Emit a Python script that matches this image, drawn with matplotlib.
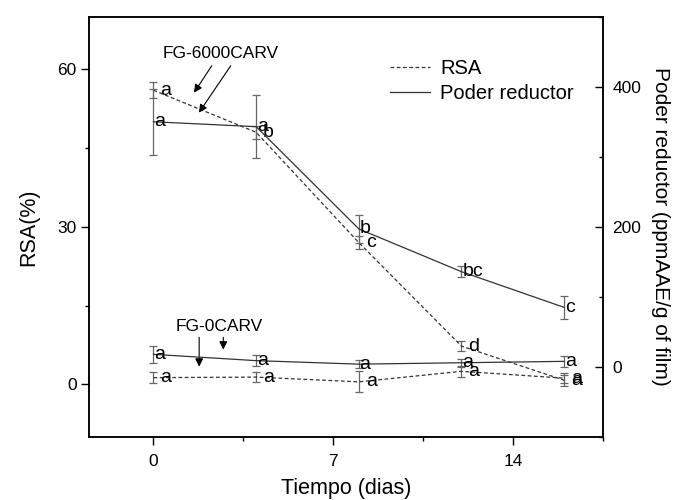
import numpy as np
import matplotlib.pyplot as plt
from matplotlib.ticker import MultipleLocator
from matplotlib.lines import Line2D

plt.rcParams['font.family'] = ['Liberation Sans', 'DejaVu Sans']

# datos
dias = [0, 4, 8, 12, 16]

rsa_6000 = [56.0, 48.0, 27.0, 7.3, 0.8]
rsa_6000_err = [1.5, 1.2, 1.2, 1.0, 1.0]
rsa_6000_let = ['a', 'b', 'c', 'd', 'a']

pr_6000 = [350, 343, 197, 136, 85]
pr_6000_err = [47, 45, 20, 8, 16]
pr_6000_let = ['a', 'a', 'b', 'bc', 'c']

rsa_0 = [1.3, 1.4, 0.5, 2.5, 1.2]
rsa_0_err = [1.0, 1.0, 2.0, 1.0, 1.0]
rsa_0_let = ['a', 'a', 'a', 'a', 'a']

pr_0 = [18, 9, 4, 6, 8]
pr_0_err = [12, 8, 6, 6, 8]
pr_0_let = ['a', 'a', 'a', 'a', 'a']

fig = plt.figure(figsize=(6.73, 5.00), dpi=100)
ax = fig.add_axes([0.1327, 0.126, 0.7628, 0.8406])
ax2 = ax.twinx()

col_line = '#333333'
col_err = '#666666'

# RSA (eje izquierdo, discontinua)
for y, e in [(rsa_6000, rsa_6000_err), (rsa_0, rsa_0_err)]:
    ax.errorbar(dias, y, yerr=e, color=col_line, ecolor=col_err, lw=0.9,
                elinewidth=0.9, capsize=3, capthick=0.9, dashes=(3, 2))

# Poder reductor (eje derecho, continua)
for y, e in [(pr_6000, pr_6000_err), (pr_0, pr_0_err)]:
    ax2.errorbar(dias, y, yerr=e, color=col_line, ecolor=col_err, lw=0.9,
                 elinewidth=0.9, capsize=3, capthick=0.9)

# letras
for y, lets in [(rsa_6000, rsa_6000_let), (rsa_0, rsa_0_let)]:
    for xi, yi, l in zip(dias, y, lets):
        ax.annotate(l, (xi, yi), xytext=(5, 0), textcoords='offset points',
                    ha='left', va='center', fontsize=14)
for y, lets in [(pr_6000, pr_6000_let), (pr_0, pr_0_let)]:
    for xi, yi, l in zip(dias, y, lets):
        ax2.annotate(l, (xi, yi), xytext=(0.5, 0), textcoords='offset points',
                     ha='left', va='center', fontsize=14)

# flechas
arr = dict(arrowstyle='-|>', color='black', lw=0.8, mutation_scale=12)
ax.text(2.6, 63.0, 'FG-6000CARV', ha='center', va='center', fontsize=12.5)
ax.annotate('', xy=(1.52, 55.1), xytext=(2.33, 61.1), arrowprops=arr)
ax.annotate('', xy=(1.71, 51.3), xytext=(3.07, 61.1), arrowprops=arr)
ax.text(2.56, 11.1, 'FG-0CARV', ha='center', va='center', fontsize=12.5)
ax.annotate('', xy=(1.78, 2.85), xytext=(1.78, 9.5), arrowprops=arr)
ax.annotate('', xy=(2.72, 6.1), xytext=(2.72, 9.5), arrowprops=arr)

ax.set_xlim(-2.5, 17.5)
ax.set_ylim(-10, 70)
ax2.set_ylim(-100, 500)
ax.set_xticks([0, 7, 14])
ax.xaxis.set_minor_locator(MultipleLocator(3.5))
ax.set_yticks([0, 30, 60])
ax.yaxis.set_minor_locator(MultipleLocator(15))
ax2.set_yticks([0, 200, 400])
ax2.yaxis.set_minor_locator(MultipleLocator(100))

ax.tick_params(axis='both', which='major', length=6, width=1, labelsize=12.5)
ax.tick_params(axis='both', which='minor', length=3, width=1)
ax.tick_params(axis='x', pad=6)
ax.tick_params(axis='y', pad=3)
ax2.tick_params(axis='y', which='major', direction='in', length=6, width=1,
                labelsize=12.5, pad=7)
ax2.tick_params(axis='y', which='minor', direction='in', length=3, width=1)

for a in (ax, ax2):
    for s in a.spines.values():
        s.set_linewidth(1.1)

ax.set_xlabel('Tiempo (dias)', fontsize=15.5)
ax.xaxis.set_label_coords(0.5, -0.097)
ax.set_ylabel('RSA(%)', fontsize=15.5)
ax.yaxis.set_label_coords(-0.098, 0.5)
ax2.set_ylabel('Poder reductor (ppmAAE/g of film)', fontsize=15, rotation=270,
               va='center')
ax2.yaxis.set_label_coords(1.113, 0.5)

handles = [Line2D([], [], color=col_line, lw=0.9, dashes=(3, 2)),
           Line2D([], [], color=col_line, lw=0.9)]
ax.legend(handles, ['RSA', 'Poder reductor'], loc='upper left',
          bbox_to_anchor=(0.585, 0.9), frameon=False, fontsize=14.5,
          borderpad=0, borderaxespad=0, labelspacing=0.3, handlelength=2.0,
          handletextpad=0.5)

plt.savefig('out.png', dpi=100)
plt.close()
